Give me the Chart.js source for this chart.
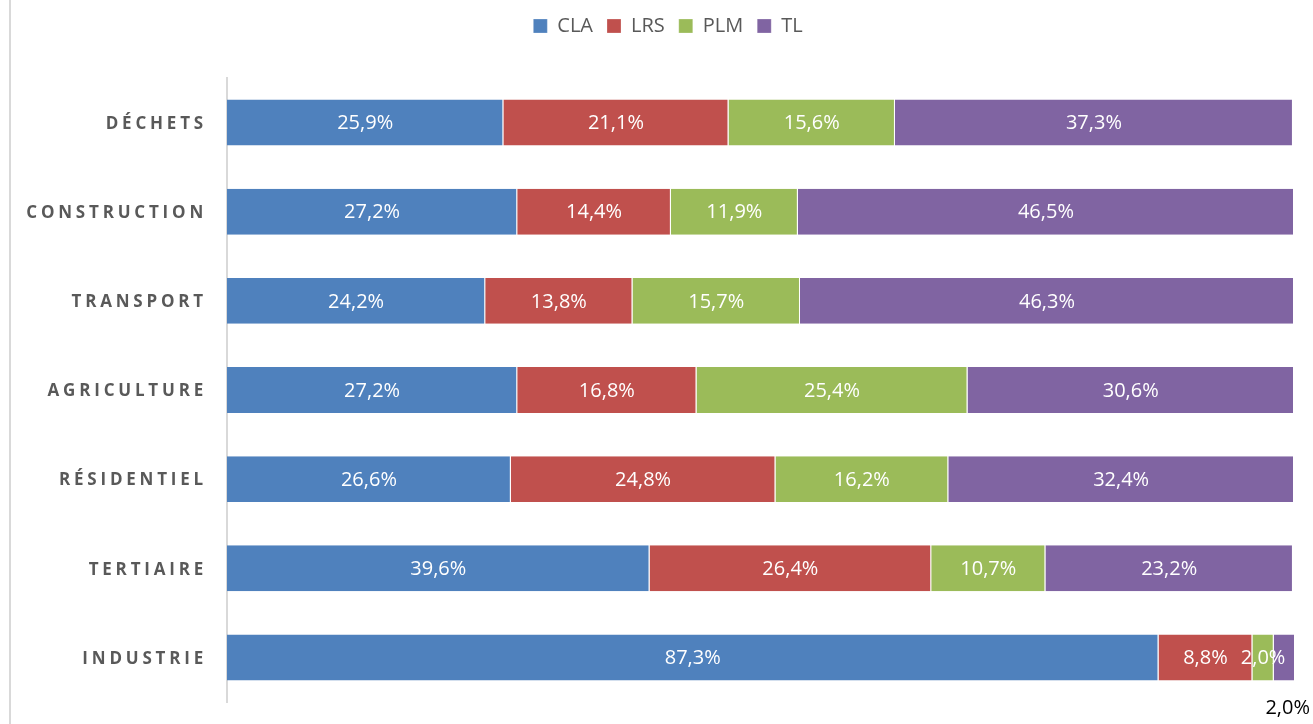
<!DOCTYPE html>
<html>
<head>
<meta charset="utf-8">
<script src="https://cdn.jsdelivr.net/npm/chart.js@4"></script>
<style>
  html, body { margin: 0; padding: 0; background: #fff; }
  #wrap { width: 1313px; height: 724px; position: relative; }
</style>
</head>
<body>
<div id="wrap"><canvas id="c" width="1313" height="724"></canvas></div>
<script>
const categories = ['DÉCHETS', 'CONSTRUCTION', 'TRANSPORT', 'AGRICULTURE', 'RÉSIDENTIEL', 'TERTIAIRE', 'INDUSTRIE'];
const seriesNames = ['CLA', 'LRS', 'PLM', 'TL'];
const cla = [25.9, 27.2, 24.2, 27.2, 26.6, 39.6, 87.3];
const lrs = [21.1, 14.4, 13.8, 16.8, 24.8, 26.4, 8.8];
const plm = [15.6, 11.9, 15.7, 25.4, 16.2, 10.7, 2.0];
const tl  = [37.3, 46.5, 46.3, 30.6, 32.4, 23.2, 2.0];
const colors = ['#4F81BD', '#C0504D', '#9BBB59', '#8064A2'];

const fmt = v => v.toFixed(1).replace('.', ',') + '%';

const frame = {
  id: 'frame',
  beforeInit(chart) {
    const lg = chart.legend;
    if (lg && !lg._patched) {
      const f = lg.fit;
      lg.fit = function () { f.call(this); this.height += 34; };
      const d = lg.draw;
      lg.draw = function () {
        const ctx = this.ctx;
        ctx.save();
        ctx.translate(21, 2);
        d.apply(this, arguments);
        ctx.restore();
      };
      lg._patched = true;
    }
  },
  afterUpdate(chart) {
    const y = chart.scales.y;
    if (y && !y._patched) {
      const d = y.drawLabels;
      y.drawLabels = function (area) {
        const ctx = this.ctx;
        ctx.save();
        ctx.letterSpacing = '3.8px';
        ctx.translate(0, 1.5);
        d.call(this, area);
        ctx.restore();
      };
      y._patched = true;
    }
  },
  beforeDraw(chart) {
    const ctx = chart.ctx;
    ctx.save();
    ctx.fillStyle = '#D9D9D9';
    ctx.fillRect(9, 0, 2, chart.height);
    ctx.restore();
  },
  afterDatasetsDraw(chart) {
    const ctx = chart.ctx;
    ctx.save();
    ctx.font = '20px "Open Sans"';
    ctx.textBaseline = 'middle';
    ctx.textAlign = 'center';
    const last = chart.data.datasets.length - 1;
    chart.data.datasets.forEach((ds, di) => {
      const meta = chart.getDatasetMeta(di);
      meta.data.forEach((bar, i) => {
        const v = ds.data[i];
        const txt = fmt(v);
        const left = Math.min(bar.x, bar.base);
        const right = Math.min(Math.max(bar.x, bar.base), chart.chartArea.right);
        const w = right - left;
        const tw = ctx.measureText(txt).width;
        let cx = (left + right) / 2;
        if (di === last && tw > w) {
          cx = chart.width - 3 - tw / 2;
          ctx.fillStyle = '#000000';
          ctx.fillText(txt, cx, bar.y + bar.height / 2 + 28);
        } else {
          ctx.fillStyle = '#FFFFFF';
          ctx.fillText(txt, cx, bar.y + 1);
        }
      });
    });
    ctx.restore();
  }
};

const seriesData = [cla, lrs, plm, tl];
new Chart(document.getElementById('c'), {
  type: 'bar',
  data: {
    labels: categories,
    datasets: seriesNames.map((n, k) => ({
      label: n,
      data: seriesData[k],
      backgroundColor: colors[k],
      borderColor: '#FFFFFF',
      borderWidth: { top: 0, right: 1, bottom: 0, left: 0 },
      borderSkipped: false,
      barPercentage: 0.515,
      categoryPercentage: 1
    }))
  },
  options: {
    indexAxis: 'y',
    responsive: false,
    animation: false,
    layout: { padding: { left: 0, right: 19, top: 0, bottom: 22 } },
    scales: {
      x: { stacked: true, min: 0, max: 100, display: false },
      y: {
        stacked: true,
        grid: { display: false, drawTicks: false },
        border: { display: true, color: '#D9D9D9', width: 2 },
        ticks: {
          color: '#595959',
          font: { family: '"Open Sans"', size: 17, weight: 'bold' },
          padding: 20
        },
        afterFit(s) {
          s.width = 227;
          s.paddingTop = 0;
          s.paddingBottom = 0;
        }
      }
    },
    plugins: {
      legend: {
        position: 'top',
        align: 'center',
        labels: {
          boxWidth: 14,
          boxHeight: 14,
          padding: 14,
          color: '#595959',
          font: { family: '"Open Sans"', size: 20 }
        }
      },
      tooltip: { enabled: false }
    }
  },
  plugins: [frame]
});
</script>
</body>
</html>
